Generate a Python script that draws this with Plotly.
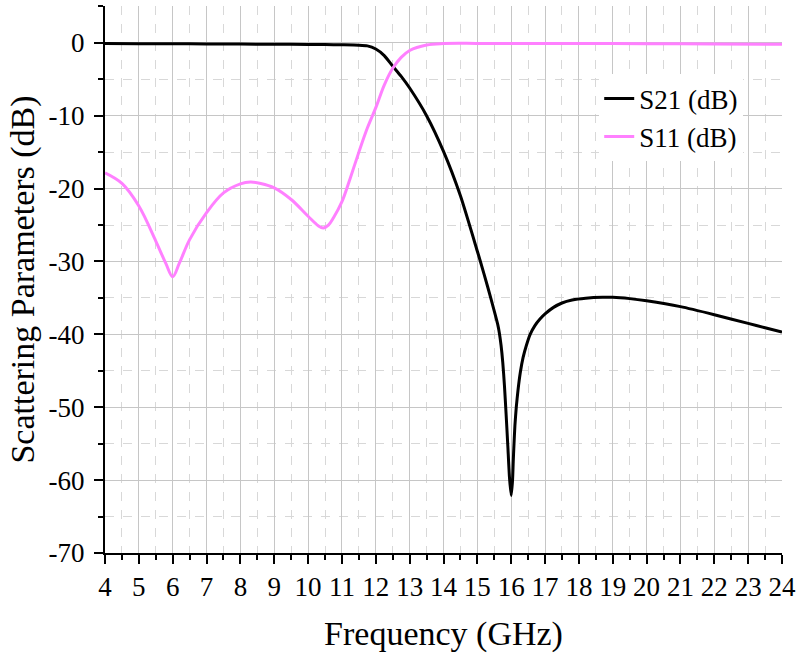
import plotly.graph_objects as go

# S21 transmission response (dB)
s21_freq = [4, 5, 6, 7, 8, 9, 10, 10.5, 11, 11.5, 11.75, 12, 12.25, 12.5, 12.75,
            13, 13.5, 14, 14.5, 15.0, 15.09, 15.3, 15.5, 15.6, 15.65, 15.7,
            15.75, 15.8, 15.85, 15.9, 15.95, 16.0, 16.04, 16.06, 16.08, 16.11,
            16.15, 16.2, 16.27, 16.35, 16.45, 16.56, 16.7, 16.85, 17.0, 17.25,
            17.5, 17.8, 18.2, 18.7, 19.0, 19.5, 20.0, 21.0, 22.0, 23.0, 23.5,
            24.0]
s21_db = [-0.10, -0.12, -0.13, -0.15, -0.18, -0.20, -0.22, -0.24, -0.27, -0.32,
          -0.42, -0.85, -1.75, -3.2, -4.6, -6.2, -10.0, -14.9, -21.0, -28.6,
          -30.0, -33.4, -36.8, -38.6, -39.8, -41.5, -43.8, -47.0, -51.0, -55.3,
          -59.7, -62.1, -60.0, -57.5, -55.3, -52.5, -50.0, -47.7, -45.2, -43.2,
          -41.5, -40.0, -38.8, -37.9, -37.2, -36.3, -35.7, -35.3, -35.05,
          -34.92, -34.92, -35.1, -35.4, -36.2, -37.3, -38.5, -39.1, -39.7]

# S11 reflection response (dB)
s11_freq = [4, 4.5, 5, 5.5, 5.8, 6.0, 6.2, 6.5, 7, 7.5, 8, 8.3, 8.6, 9, 9.5,
            10, 10.3, 10.45, 10.6, 10.75, 11, 11.25, 11.5, 11.75, 12, 12.25,
            12.5, 12.75, 13, 13.5, 14, 15, 16, 18, 20, 22, 24]
s11_db = [-17.85, -19.3, -22.4, -27.2, -30.3, -32.1, -30.2, -27.0, -23.3, -20.6,
          -19.35, -19.1, -19.3, -19.9, -21.5, -23.8, -25.1, -25.4, -25.0, -24.0,
          -21.8, -18.5, -15.0, -11.7, -8.9, -5.8, -3.5, -2.0, -1.05, -0.3, -0.1,
          -0.08, -0.08, -0.1, -0.12, -0.15, -0.2]

x_ticks = list(range(4, 25))
y_ticks = [0, -10, -20, -30, -40, -50, -60, -70]

FONT = "Liberation Serif, Times New Roman, serif"

fig = go.Figure()
fig.add_trace(go.Scatter(
    x=s21_freq, y=s21_db, mode="lines", name="S21 (dB)", legendgroup="a",
    line=dict(color="#000000", width=3, shape="spline", smoothing=0.6),
))
fig.add_trace(go.Scatter(
    x=s11_freq, y=s11_db, mode="lines", name="S11 (dB)", legendgroup="b",
    line=dict(color="#ff80ff", width=3, shape="spline", smoothing=1.0),
))

axis_common = dict(
    showline=True, linecolor="black", linewidth=2,
    ticks="outside", ticklen=9, tickwidth=2, tickcolor="black",
    showgrid=True, gridcolor="#c6c6c6", gridwidth=1.3,
    zeroline=False, mirror=False, automargin=False,
    tickfont=dict(family=FONT, size=27, color="black"),
)

fig.update_xaxes(
    **axis_common,
    range=[4, 24], tickvals=x_ticks, ticktext=[str(v) for v in x_ticks],
    minor=dict(dtick=0.5, ticks="outside", ticklen=5, tickwidth=2,
               tickcolor="black", showgrid=True, gridcolor="#d8d8d8",
               griddash="dash", gridwidth=1),
    title=dict(text="Frequency (GHz)", font=dict(family=FONT, size=34, color="black"),
               standoff=20),
)
fig.update_yaxes(
    **axis_common,
    range=[-70, 5.05], tickvals=y_ticks, ticktext=[str(v) for v in y_ticks],
    ticklabelstandoff=4,
    minor=dict(dtick=5, ticks="outside", ticklen=5, tickwidth=2,
               tickcolor="black", showgrid=True, gridcolor="#d8d8d8",
               griddash="dash", gridwidth=1),
    title=dict(text="Scattering Parameters (dB)",
               font=dict(family=FONT, size=34, color="black"), standoff=4),
)

fig.update_layout(
    width=798, height=654,
    margin=dict(l=105, r=16, t=6, b=101),
    paper_bgcolor="white", plot_bgcolor="white",
    font=dict(family=FONT, color="black"),
    showlegend=True,
    legend=dict(
        x=0.73, y=0.875, xanchor="left", yanchor="top",
        bgcolor="white", borderwidth=0,
        font=dict(family=FONT, size=27, color="black"),
        tracegroupgap=0,
    ),
)

fig.write_html("out.html")
